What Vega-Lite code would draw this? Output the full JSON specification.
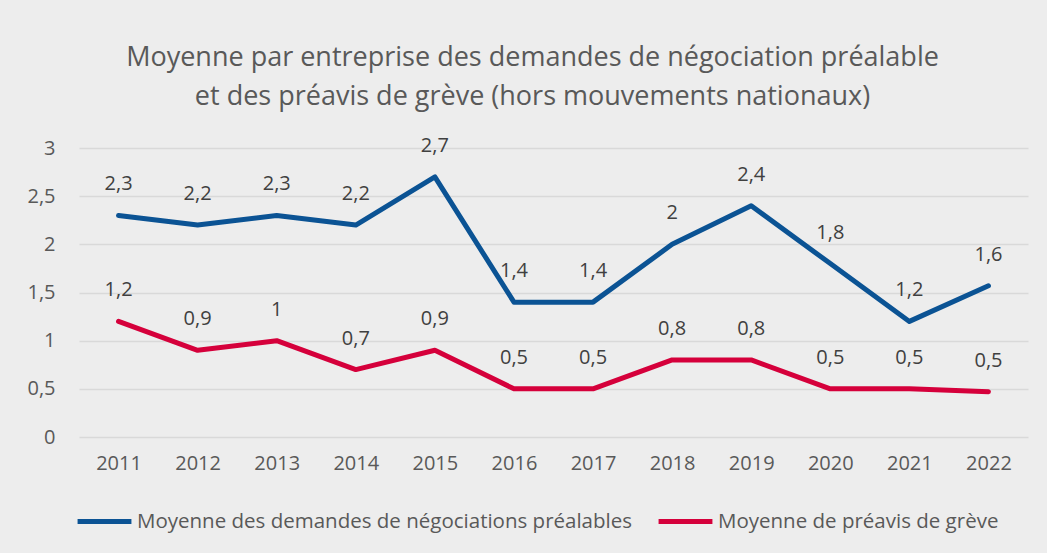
{
  "$schema": "https://vega.github.io/schema/vega-lite/v6.json",
  "width": 949,
  "height": 289,
  "autosize": {"type": "none"},
  "padding": {"left": 79, "top": 148, "right": 19, "bottom": 116},
  "background": "#ededed",
  "title": {
    "text": ["Moyenne par entreprise des demandes de négociation préalable", "et des préavis de grève (hors mouvements nationaux)"],
    "font": "Open Sans",
    "fontSize": 27,
    "fontWeight": "normal",
    "color": "#595959",
    "anchor": "middle",
    "dx": -21,
    "offset": 25,
    "lineHeight": 39
  },
  "config": {
    "locale": {"number": {"decimal": ",", "thousands": " ", "grouping": [3], "currency": ["", " €"]}},
    "view": {"stroke": null},
    "font": "Open Sans"
  },
  "data": {
    "values": [
      {"year": "2011", "series": "Moyenne des demandes de négociations préalables", "value": 2.3},
      {"year": "2012", "series": "Moyenne des demandes de négociations préalables", "value": 2.2},
      {"year": "2013", "series": "Moyenne des demandes de négociations préalables", "value": 2.3},
      {"year": "2014", "series": "Moyenne des demandes de négociations préalables", "value": 2.2},
      {"year": "2015", "series": "Moyenne des demandes de négociations préalables", "value": 2.7},
      {"year": "2016", "series": "Moyenne des demandes de négociations préalables", "value": 1.4},
      {"year": "2017", "series": "Moyenne des demandes de négociations préalables", "value": 1.4},
      {"year": "2018", "series": "Moyenne des demandes de négociations préalables", "value": 2.0},
      {"year": "2019", "series": "Moyenne des demandes de négociations préalables", "value": 2.4},
      {"year": "2020", "series": "Moyenne des demandes de négociations préalables", "value": 1.8},
      {"year": "2021", "series": "Moyenne des demandes de négociations préalables", "value": 1.2},
      {"year": "2022", "series": "Moyenne des demandes de négociations préalables", "value": 1.57},
      {"year": "2011", "series": "Moyenne de préavis de grève", "value": 1.2},
      {"year": "2012", "series": "Moyenne de préavis de grève", "value": 0.9},
      {"year": "2013", "series": "Moyenne de préavis de grève", "value": 1.0},
      {"year": "2014", "series": "Moyenne de préavis de grève", "value": 0.7},
      {"year": "2015", "series": "Moyenne de préavis de grève", "value": 0.9},
      {"year": "2016", "series": "Moyenne de préavis de grève", "value": 0.5},
      {"year": "2017", "series": "Moyenne de préavis de grève", "value": 0.5},
      {"year": "2018", "series": "Moyenne de préavis de grève", "value": 0.8},
      {"year": "2019", "series": "Moyenne de préavis de grève", "value": 0.8},
      {"year": "2020", "series": "Moyenne de préavis de grève", "value": 0.5},
      {"year": "2021", "series": "Moyenne de préavis de grève", "value": 0.5},
      {"year": "2022", "series": "Moyenne de préavis de grève", "value": 0.47}
    ]
  },
  "encoding": {
    "x": {
      "field": "year",
      "type": "ordinal",
      "scale": {"type": "point", "padding": 0.5},
      "axis": {
        "title": null,
        "domain": false,
        "ticks": false,
        "labelAngle": 0,
        "labelPadding": 16,
        "labelFontSize": 20,
        "labelColor": "#595959",
        "labelFont": "Open Sans"
      }
    },
    "y": {
      "field": "value",
      "type": "quantitative",
      "scale": {"domain": [0, 3]},
      "axis": {
        "title": null,
        "values": [0, 0.5, 1, 1.5, 2, 2.5, 3],
        "format": ".1~f",
        "domain": false,
        "ticks": false,
        "labelPadding": 24,
        "labelFontSize": 20,
        "labelColor": "#595959",
        "labelFont": "Open Sans",
        "gridColor": "#d9d9d9",
        "gridWidth": 1.5
      }
    }
  },
  "layer": [
    {
      "mark": {"type": "line", "strokeWidth": 5, "strokeCap": "round", "strokeJoin": "round"},
      "encoding": {
        "color": {
          "field": "series",
          "type": "nominal",
          "scale": {
            "domain": ["Moyenne des demandes de négociations préalables", "Moyenne de préavis de grève"],
            "range": ["#0b5394", "#d5003b"]
          },
          "legend": {
            "title": null,
            "orient": "none",
            "legendX": -4,
            "legendY": 344,
            "direction": "horizontal",
            "symbolType": "stroke",
            "symbolStrokeWidth": 5,
            "symbolSize": 2900,
            "labelFontSize": 20.5,
            "labelLimit": 0,
            "labelColor": "#595959",
            "labelFont": "Open Sans",
            "labelOffset": 3,
            "columnPadding": 15
          }
        }
      }
    },
    {
      "mark": {"type": "text", "dy": -31, "fontSize": 20, "color": "#404040", "font": "Open Sans"},
      "encoding": {
        "text": {"field": "value", "type": "quantitative", "format": ".1~f"},
        "detail": {"field": "series"}
      }
    }
  ]
}
